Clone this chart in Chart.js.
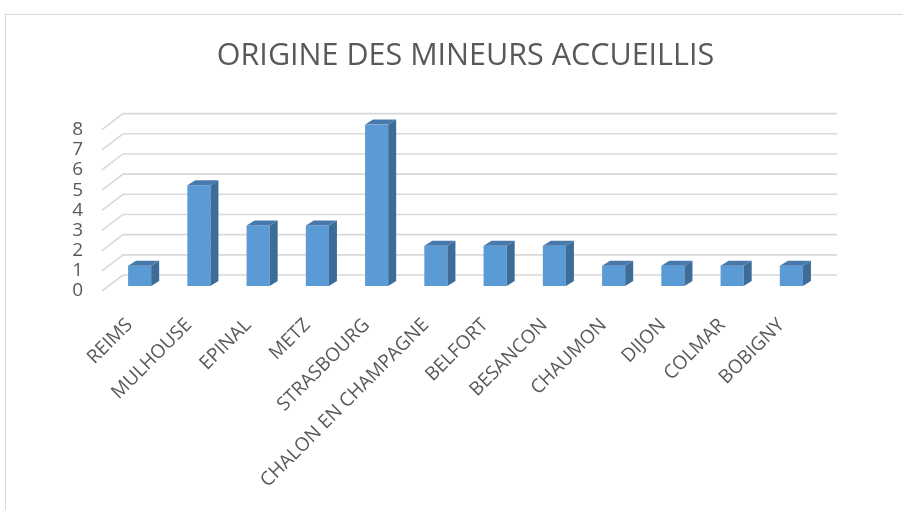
<!DOCTYPE html>
<html>
<head>
<meta charset="utf-8">
<script src="https://cdn.jsdelivr.net/npm/chart.js@4/dist/chart.umd.min.js"></script>
<style>
  html, body { margin: 0; padding: 0; background: #ffffff; }
  #wrap { position: relative; width: 903px; height: 510px; overflow: hidden; }
  #frame { position: absolute; left: 5px; top: 14px; width: 920px; height: 520px;
           border-top: 1px solid #d9d9d9; border-left: 1px solid #d9d9d9; pointer-events: none; }
  canvas { position: absolute; left: 0; top: 0; }
</style>
</head>
<body>
<div id="wrap">
  <canvas id="c" width="903" height="510"></canvas>
  <div id="frame"></div>
</div>
<script>
const chartTitle = 'ORIGINE DES MINEURS ACCUEILLIS';
const categories = ['REIMS', 'MULHOUSE', 'EPINAL', 'METZ', 'STRASBOURG', 'CHALON EN CHAMPAGNE',
                    'BELFORT', 'BESANCON', 'CHAUMON', 'DIJON', 'COLMAR', 'BOBIGNY'];
const values = [1, 5, 3, 3, 8, 2, 2, 2, 1, 1, 1, 1];
const yMin = 0;
const yMax = 8;
const yStep = 1;

const TEXT = '#595959';
const GRID = '#d9d9d9';
const FRONT = '#5b9bd5';
const SIDE = '#3d6c98';
const TOP = '#4879ac';

// 3D look: floor/wall depth and bar depth (pixels)
const WALL_DX = 21, WALL_DY = 16, FRONT_EDGE = 8;
const BAR_SHIFT = 5, BAR_DX = 8, BAR_DY = 5;

const threeD = {
  id: 'threeD',
  beforeDatasetsDraw(chart) {
    const {ctx, chartArea, scales} = chart;
    const y = scales.y;
    const x0 = chartArea.left - FRONT_EDGE;
    const x1 = x0 + WALL_DX;
    const x2 = chartArea.right + 16;
    ctx.save();
    ctx.strokeStyle = GRID;
    ctx.lineWidth = 1.6;
    for (let v = yMin; v <= yMax; v += yStep) {
      const py = y.getPixelForValue(v);
      ctx.beginPath();
      ctx.moveTo(x0, py);
      ctx.lineTo(x1, py - WALL_DY);
      ctx.lineTo(x2, py - WALL_DY);
      ctx.stroke();
    }
    ctx.restore();
    ctx.save();
    ctx.translate(0, -BAR_SHIFT);
  },
  afterDatasetsDraw(chart) {
    const {ctx} = chart;
    const meta = chart.getDatasetMeta(0);
    meta.data.forEach(bar => {
      const p = bar.getProps(['x', 'y', 'base', 'width'], true);
      const l = p.x - p.width / 2, r = p.x + p.width / 2;
      // side face
      ctx.fillStyle = SIDE;
      ctx.beginPath();
      ctx.moveTo(r, p.y);
      ctx.lineTo(r + BAR_DX, p.y - BAR_DY);
      ctx.lineTo(r + BAR_DX, p.base - BAR_DY);
      ctx.lineTo(r, p.base);
      ctx.closePath();
      ctx.fill();
      // top face
      ctx.fillStyle = TOP;
      ctx.beginPath();
      ctx.moveTo(l, p.y);
      ctx.lineTo(l + BAR_DX, p.y - BAR_DY);
      ctx.lineTo(r + BAR_DX, p.y - BAR_DY);
      ctx.lineTo(r, p.y);
      ctx.closePath();
      ctx.fill();
    });
    ctx.restore();
  }
};

new Chart(document.getElementById('c'), {
  type: 'bar',
  data: {
    labels: categories,
    datasets: [{
      data: values,
      backgroundColor: FRONT,
      borderWidth: 0,
      categoryPercentage: 1,
      barPercentage: 0.39
    }]
  },
  options: {
    responsive: false,
    devicePixelRatio: 1,
    animation: false,
    layout: { padding: { left: 0, right: 82, top: 0, bottom: 0 } },
    plugins: {
      legend: { display: false },
      tooltip: { enabled: false },
      title: {
        display: true,
        text: chartTitle,
        fullSize: false,
        color: TEXT,
        font: { family: '"Open Sans"', size: 30.5, weight: 'normal', lineHeight: 1.2 },
        padding: { top: 38, bottom: 55 }
      }
    },
    scales: {
      x: {
        grid: { display: false },
        border: { display: false },
        ticks: {
          color: TEXT,
          font: { family: '"Open Sans"', size: 19 },
          minRotation: 45,
          maxRotation: 45,
          autoSkip: false,
          labelOffset: -10,
          padding: 15
        },
        afterFit(scale) { scale.height = 219; }
      },
      y: {
        min: yMin,
        max: yMax,
        grid: { display: false, drawTicks: false },
        border: { display: false },
        ticks: {
          stepSize: yStep,
          autoSkip: false,
          color: TEXT,
          font: { family: '"Open Sans"', size: 19 },
          padding: 27
        },
        afterFit(scale) { scale.width = 110; }
      }
    }
  },
  plugins: [threeD]
});
</script>
</body>
</html>
